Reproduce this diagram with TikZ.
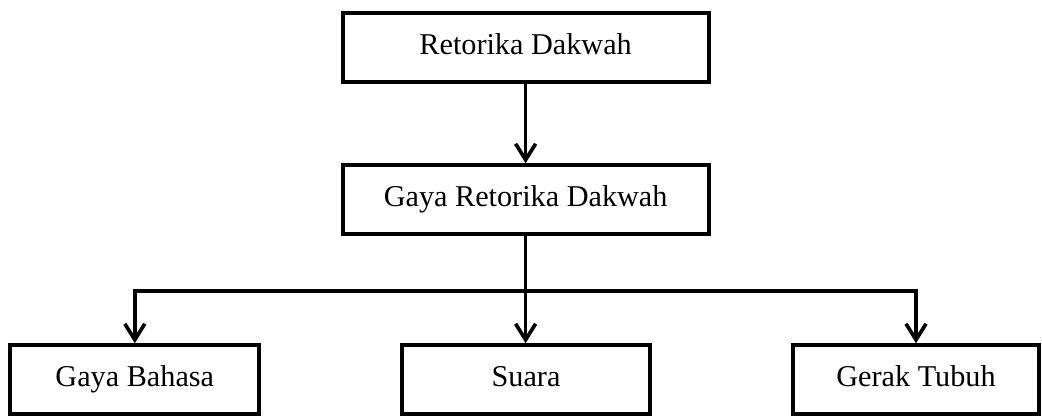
\documentclass[tikz,border=0pt]{standalone}
\usepackage{fontspec}
\setmainfont{Liberation Serif}
\usepackage{tikz}
\usetikzlibrary{
    arrows.meta,
    positioning
}

\begin{document}
\begin{tikzpicture}[
    box/.style={draw, line width=2.8pt, minimum height=1.72cm, text height=15pt, text depth=5pt, font=\fontsize{21.5}{26}\selectfont},
    arr/.style={line width=2.6pt, -{Straight Barb[length=4mm,width=5mm]}}
]

\useasboundingbox (0,0) rectangle (26.05,10.4);

% Boxes
\node[box, minimum width=9.15cm] (retorika) at (13.14,9.22) {Retorika Dakwah};
\node[box, minimum width=9.15cm] (gaya) at (13.14,5.41) {Gaya Retorika Dakwah};
\node[box, minimum width=6.22cm] (bahasa) at (3.37,0.91) {Gaya Bahasa};
\node[box, minimum width=6.18cm] (suara) at (13.15,0.91) {Suara};
\node[box, minimum width=6.16cm] (tubuh) at (22.9,0.91) {Gerak Tubuh};

% Branch point
\coordinate (split) at (gaya.south |- 0,3.125);

% Connectors
\draw[arr] (retorika) -- (gaya);
\draw[line width=2.6pt] (gaya.south) -- (split);
\draw[arr] (split) -| (bahasa);
\draw[arr] (split) -- (split |- suara.north);
\draw[arr] (split) -| (tubuh);

\end{tikzpicture}
\end{document}
